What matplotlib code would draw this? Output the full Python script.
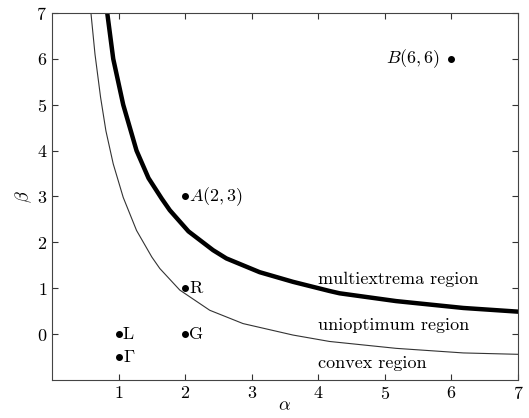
import numpy as np
import matplotlib
matplotlib.use('Agg')
import matplotlib.pyplot as plt

plt.rcParams['font.family'] = 'serif'
plt.rcParams['font.serif'] = ['cmr10']
plt.rcParams['mathtext.fontset'] = 'cm'
plt.rcParams['axes.formatter.use_mathtext'] = True

# boundary between unioptimum and multiextrema region (thick)
thick_a = [0.83, 0.92, 1.07, 1.27, 1.45, 1.65, 1.77, 2.05, 2.42, 2.62, 3.12, 3.62, 4.17, 4.32, 5.17, 6.18, 7.0]
thick_b = [7.0, 6.0, 5.0, 4.0, 3.40, 2.95, 2.70, 2.24, 1.83, 1.65, 1.35, 1.14, 0.94, 0.89, 0.72, 0.57, 0.49]

# boundary between convex and unioptimum region (thin)
thin_a = [0.585, 0.646, 0.73, 0.81, 0.92, 1.07, 1.27, 1.50, 1.62, 1.92, 2.37, 2.87, 3.62, 4.17, 5.17, 6.18, 7.0]
thin_b = [7.0, 6.1, 5.16, 4.43, 3.71, 2.98, 2.26, 1.68, 1.43, 0.96, 0.52, 0.23, -0.02, -0.16, -0.31, -0.41, -0.44]

# named points
pt_a = [6, 2, 2, 1, 2, 1]
pt_b = [6, 3, 1, 0, 0, -0.5]
pt_lab = [r'$B(6,6)$', r'$A(2,3)$', 'R', 'L', 'G', r'$\Gamma$']

fig = plt.figure(figsize=(5.29, 4.18), dpi=100)
ax = fig.add_axes([0.0983, 0.0909, 0.8807, 0.8781])

ax.plot(thick_a, thick_b, 'k', lw=3.2, solid_joinstyle='round')
ax.plot(thin_a, thin_b, color='#333333', lw=0.8, solid_joinstyle='round')
ax.plot(pt_a, pt_b, 'k.', ms=8)

for a, b, s in zip(pt_a, pt_b, pt_lab):
    if s.startswith('$B'):
        ax.annotate(s, (a, b), xytext=(-8, 0), textcoords='offset points',
                    ha='right', va='center', fontsize=13)
    else:
        ax.annotate(s, (a, b), xytext=(3, 0), textcoords='offset points',
                    ha='left', va='center', fontsize=13)

ax.text(4.0, 1.2, 'multiextrema region', fontsize=13, va='center')
ax.text(4.0, 0.2, 'unioptimum region', fontsize=13, va='center')
ax.text(4.0, -0.63, 'convex region', fontsize=13, va='center')

ax.set_xlim(0, 7)
ax.set_ylim(-1, 7)
ax.set_xticks(range(1, 8))
ax.set_yticks(range(0, 8))
ax.tick_params(direction='in', top=True, right=True, labelsize=13, length=4, colors='#333333', labelcolor='black')
for sp in ax.spines.values():
    sp.set_color('#444444')
ax.set_xlabel(r'$\alpha$', fontsize=13, labelpad=-3)
ax.set_ylabel(r'$\beta$', fontsize=13, labelpad=2)

fig.savefig('out.png', dpi=100)
